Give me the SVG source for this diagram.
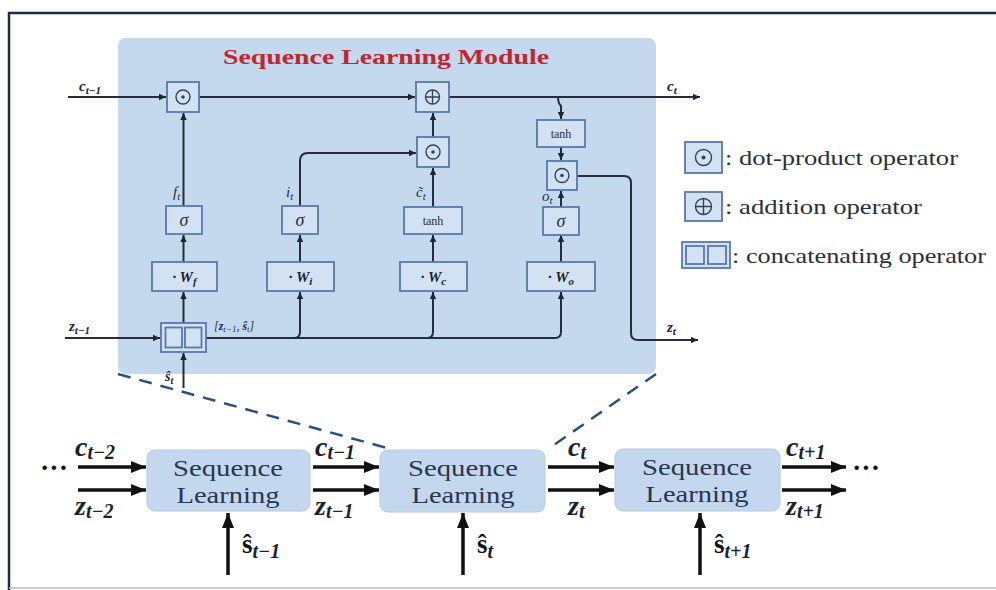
<svg xmlns="http://www.w3.org/2000/svg" width="996" height="590" viewBox="0 0 996 590">
  <defs>
    <marker id="ah" markerUnits="userSpaceOnUse" markerWidth="8" markerHeight="8" refX="7" refY="4" orient="auto">
      <path d="M0,0.8 L7,4 L0,7.2 Z" fill="#1f2533"/>
    </marker>
    <marker id="big" markerUnits="userSpaceOnUse" markerWidth="16" markerHeight="14" refX="15" refY="7" orient="auto">
      <path d="M0,1 L15,7 L0,13 Z" fill="#111"/>
    </marker>
  </defs>
  <style>
    .frame{stroke:#1e2b47;stroke-width:2.5;fill:none}
    .mod{fill:#c5d9ee}
    .op{fill:#d3e2f3;stroke:#5878ad;stroke-width:1.8}
    .cir{fill:none;stroke:#34415a;stroke-width:1.4}
    .ln{stroke:#262c3a;stroke-width:2;fill:none;marker-end:url(#ah)}
    .big{stroke:#111;stroke-width:3.5;fill:none;marker-end:url(#big)}
    .dash{stroke:#2c4f80;stroke-width:2.5;stroke-dasharray:13 9;fill:none}
    .blk{fill:#c3d8ee;stroke:#b4c9e0;stroke-width:1}
    .s{font-family:"Liberation Serif","DejaVu Serif",serif;fill:#27303f}
    .mi{font-family:"Liberation Serif","DejaVu Serif",serif;font-style:italic;fill:#27303f}
    .mb{font-family:"Liberation Serif","DejaVu Serif",serif;font-style:italic;font-weight:bold;fill:#1c222d}
    .big-t{font-family:"Liberation Serif","DejaVu Serif",serif;fill:#2a3550;font-size:24px}
    .bm{font-family:"Liberation Serif","DejaVu Serif",serif;font-weight:bold;fill:#111}
    .leg{font-family:"Liberation Serif","DejaVu Serif",serif;fill:#2a2f38;font-size:21px}
  </style>

  <!-- outer frame -->
  <rect x="0" y="0" width="996" height="590" fill="#ffffff"/>
  <path class="frame" d="M9,590 V13 H996"/>
  <path d="M9,588 H996" stroke="#aebfd6" stroke-width="1.5" fill="none"/>

  <!-- module background -->
  <g id="module">
    <rect class="mod" x="118" y="38" width="538" height="336" rx="8"/>
    <text x="386" y="64" text-anchor="middle" font-family="Liberation Serif, DejaVu Serif, serif" font-weight="bold" font-size="22" fill="#c0262e" textLength="326" lengthAdjust="spacingAndGlyphs">Sequence Learning Module</text>
  </g>

  <!-- connectors -->
  <g id="connectors">
    <!-- cell state path -->
    <path class="ln" d="M68,97 H166"/>
    <path class="ln" d="M199,97 H415"/>
    <path class="ln" d="M449,97 H700"/>
    <!-- forget gate -->
    <path class="ln" d="M183.5,206 V113"/>
    <path class="ln" d="M183.5,262 V235"/>
    <path class="ln" d="M183.5,323 V292"/>
    <!-- inputs to concat -->
    <path class="ln" d="M65,338 H160"/>
    <path class="ln" d="M183.5,388 V353"/>
    <!-- concatenated vector bus -->
    <path class="ln" d="M206,338 H555 Q561,338 561,332 V292"/>
    <path class="ln" d="M294,338 Q300,338 300,332 V292"/>
    <path class="ln" d="M427,338 Q433,338 433,332 V292"/>
    <!-- input gate -->
    <path class="ln" d="M300,262 V235"/>
    <path class="ln" d="M300,206 V161 Q300,153 308,153 H416"/>
    <!-- candidate -->
    <path class="ln" d="M433,262 V235"/>
    <path class="ln" d="M433,207 V168"/>
    <path class="ln" d="M433,137 V113"/>
    <!-- output gate -->
    <path class="ln" d="M558,97 Q558,103 561,106 V119"/>
    <path class="ln" d="M561,147 V160"/>
    <path class="ln" d="M561,262 V235"/>
    <path class="ln" d="M561,207 V191"/>
    <path class="ln" d="M577,176 H624 Q631,176 631,183 V333 Q631,340 638,340 H698"/>

    <!-- zoom guides -->
    <path class="dash" d="M118,374 L387,448"/>
    <path class="dash" d="M656,374 L548,449"/>

    <!-- unrolled chain -->
    <path class="big" d="M78,467 H146"/>
    <path class="big" d="M78,490 H146"/>
    <path class="big" d="M313,467 H379"/>
    <path class="big" d="M313,490 H379"/>
    <path class="big" d="M548,467 H614"/>
    <path class="big" d="M548,490 H614"/>
    <path class="big" d="M782,467 H846"/>
    <path class="big" d="M782,490 H846"/>
    <path class="big" d="M228,575 V513"/>
    <path class="big" d="M463,575 V513"/>
    <path class="big" d="M700,575 V513"/>
  </g>

  <!-- operator nodes -->
  <g id="dot_f">
    <rect class="op" x="167" y="82" width="32" height="30"/>
    <circle class="cir" cx="183" cy="97" r="7"/>
    <circle cx="183" cy="97" r="1.8" fill="#34415a"/>
  </g>
  <g id="add_c">
    <rect class="op" x="416" y="82" width="33" height="30"/>
    <circle class="cir" cx="432.5" cy="97" r="7"/>
    <path d="M425.5,97 H439.5 M432.5,90 V104" stroke="#34415a" stroke-width="1.3"/>
  </g>
  <g id="dot_i">
    <rect class="op" x="417" y="137" width="32" height="30"/>
    <circle class="cir" cx="433" cy="152" r="7"/>
    <circle cx="433" cy="152" r="1.8" fill="#34415a"/>
  </g>
  <g id="tanh_out">
    <rect class="op" x="537" y="120" width="48" height="27"/>
    <text class="s" x="561" y="138" text-anchor="middle" font-size="12">tanh</text>
  </g>
  <g id="dot_o">
    <rect class="op" x="547" y="161" width="30" height="29"/>
    <circle class="cir" cx="562" cy="175.5" r="7"/>
    <circle cx="562" cy="175.5" r="1.8" fill="#34415a"/>
  </g>
  <g id="sigma_f">
    <rect class="op" x="166" y="206" width="36" height="28"/>
    <text class="mi" x="184" y="226" text-anchor="middle" font-size="18">σ</text>
  </g>
  <g id="w_f">
    <rect class="op" x="152" y="262" width="65" height="29"/>
    <text class="mb" x="184.5" y="282" text-anchor="middle" font-size="15">· W<tspan font-size="11" dy="3">f</tspan></text>
  </g>
  <g id="sigma_i">
    <rect class="op" x="282" y="206" width="36" height="28"/>
    <text class="mi" x="300" y="226" text-anchor="middle" font-size="18">σ</text>
  </g>
  <g id="w_i">
    <rect class="op" x="267" y="262" width="67" height="29"/>
    <text class="mb" x="300.5" y="282" text-anchor="middle" font-size="15">· W<tspan font-size="11" dy="3">i</tspan></text>
  </g>
  <g id="tanh_c">
    <rect class="op" x="404" y="207" width="58" height="27"/>
    <text class="s" x="433" y="225" text-anchor="middle" font-size="12">tanh</text>
  </g>
  <g id="w_c">
    <rect class="op" x="400" y="262" width="67" height="29"/>
    <text class="mb" x="433.5" y="282" text-anchor="middle" font-size="15">· W<tspan font-size="11" dy="3">c</tspan></text>
  </g>
  <g id="sigma_o">
    <rect class="op" x="543" y="207" width="36" height="28"/>
    <text class="mi" x="561" y="227" text-anchor="middle" font-size="18">σ</text>
  </g>
  <g id="w_o">
    <rect class="op" x="527" y="262" width="68" height="29"/>
    <text class="mb" x="561" y="282" text-anchor="middle" font-size="15">· W<tspan font-size="11" dy="3">o</tspan></text>
  </g>
  <g id="concat">
    <rect class="op" x="161" y="323" width="45" height="29"/>
    <rect class="op" x="165.5" y="327.5" width="16.5" height="20" stroke-width="1.4"/>
    <rect class="op" x="185" y="327.5" width="16.5" height="20" stroke-width="1.4"/>
  </g>

  <!-- signal labels inside the module -->
  <g id="module_labels">
    <text class="mb" x="79" y="91" font-size="15">c<tspan font-size="11" dy="3">t−1</tspan></text>
    <text class="mb" x="667" y="91" font-size="15">c<tspan font-size="11" dy="3">t</tspan></text>
    <text class="mi" x="173" y="197" font-size="15">f<tspan font-size="11" dy="3">t</tspan></text>
    <text class="mi" x="286" y="197" font-size="15">i<tspan font-size="11" dy="3">t</tspan></text>
    <text class="mi" x="416" y="197" font-size="15">c̃<tspan font-size="11" dy="3">t</tspan></text>
    <text class="mi" x="542" y="201" font-size="15">o<tspan font-size="11" dy="3">t</tspan></text>
    <text class="mi" x="214" y="330" font-size="12">[<tspan font-weight="bold">z</tspan><tspan font-size="9" dy="2">t−1</tspan><tspan dy="-2">, </tspan><tspan font-weight="bold">ŝ</tspan><tspan font-size="9" dy="2">t</tspan><tspan dy="-2">]</tspan></text>
    <text class="mb" x="69" y="331" font-size="15">z<tspan font-size="11" dy="3">t−1</tspan></text>
    <text class="mb" x="667" y="332" font-size="15">z<tspan font-size="11" dy="3">t</tspan></text>
    <text class="mb" x="165" y="381" font-size="14">ŝ<tspan font-size="10" dy="3">t</tspan></text>
  </g>

  <!-- legend -->
  <g id="legend">
    <rect class="op" x="685" y="142" width="37" height="31"/>
    <circle class="cir" cx="703.5" cy="157.5" r="8"/>
    <circle cx="703.5" cy="157.5" r="2" fill="#34415a"/>
    <text class="leg" x="725" y="165" textLength="233" lengthAdjust="spacingAndGlyphs">: dot-product operator</text>
    <rect class="op" x="685" y="192" width="37" height="29"/>
    <circle class="cir" cx="703.5" cy="206.5" r="8"/>
    <path d="M695.5,206.5 H711.5 M703.5,198.5 V214.5" stroke="#34415a" stroke-width="1.4"/>
    <text class="leg" x="725" y="214" textLength="197" lengthAdjust="spacingAndGlyphs">: addition operator</text>
    <rect class="op" x="682" y="242" width="48" height="26"/>
    <rect class="op" x="686" y="246" width="18" height="18" stroke-width="1.4"/>
    <rect class="op" x="708" y="246" width="18" height="18" stroke-width="1.4"/>
    <text class="leg" x="732" y="263" textLength="254" lengthAdjust="spacingAndGlyphs">: concatenating operator</text>
  </g>

  <!-- unrolled sequence learning blocks -->
  <g id="block_prev">
    <rect class="blk" x="147" y="450" width="163" height="61" rx="8"/>
    <text class="big-t" x="228" y="476" text-anchor="middle" textLength="110" lengthAdjust="spacingAndGlyphs">Sequence</text>
    <text class="big-t" x="228" y="503" text-anchor="middle" textLength="103" lengthAdjust="spacingAndGlyphs">Learning</text>
  </g>
  <g id="block_cur">
    <rect class="blk" x="380" y="450" width="165" height="62" rx="8"/>
    <text class="big-t" x="463" y="476" text-anchor="middle" textLength="110" lengthAdjust="spacingAndGlyphs">Sequence</text>
    <text class="big-t" x="463" y="503" text-anchor="middle" textLength="103" lengthAdjust="spacingAndGlyphs">Learning</text>
  </g>
  <g id="block_next">
    <rect class="blk" x="615" y="449" width="165" height="62" rx="8"/>
    <text class="big-t" x="697" y="475" text-anchor="middle" textLength="110" lengthAdjust="spacingAndGlyphs">Sequence</text>
    <text class="big-t" x="697" y="502" text-anchor="middle" textLength="103" lengthAdjust="spacingAndGlyphs">Learning</text>
  </g>

  <!-- chain labels -->
  <g id="chain_labels">
    <text class="bm" x="40" y="477" font-size="28">···</text>
    <text class="bm" x="852" y="477" font-size="28">···</text>
    <text class="mb" x="75" y="456" font-size="28">c<tspan font-size="20" dy="3">t−2</tspan></text>
    <text class="mb" x="75" y="515" font-size="28">z<tspan font-size="20" dy="3">t−2</tspan></text>
    <text class="mb" x="315" y="456" font-size="28">c<tspan font-size="20" dy="3">t−1</tspan></text>
    <text class="mb" x="315" y="515" font-size="28">z<tspan font-size="20" dy="3">t−1</tspan></text>
    <text class="mb" x="568" y="456" font-size="28">c<tspan font-size="20" dy="3">t</tspan></text>
    <text class="mb" x="568" y="515" font-size="28">z<tspan font-size="20" dy="3">t</tspan></text>
    <text class="mb" x="786" y="456" font-size="28">c<tspan font-size="20" dy="3">t+1</tspan></text>
    <text class="mb" x="786" y="515" font-size="28">z<tspan font-size="20" dy="3">t+1</tspan></text>
    <text class="bm" x="242" y="553" font-size="27">ŝ<tspan class="mb" font-size="20" dy="5">t−1</tspan></text>
    <text class="bm" x="477" y="553" font-size="27">ŝ<tspan class="mb" font-size="20" dy="5">t</tspan></text>
    <text class="bm" x="714" y="553" font-size="27">ŝ<tspan class="mb" font-size="20" dy="5">t+1</tspan></text>
  </g>
</svg>
